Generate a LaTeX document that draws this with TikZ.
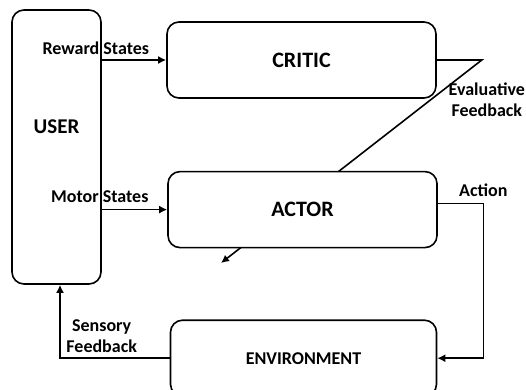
\documentclass[tikz,border=0pt]{standalone}
\usepackage{fontspec}
\setmainfont{Carlito}
\usetikzlibrary{arrows.meta,positioning,backgrounds}

\begin{document}
\begin{tikzpicture}[
  x=1pt, y=-1pt,
  node distance=72pt,
  block/.style={draw, rounded corners=12pt, line width=1.6pt, fill=white, minimum width=269pt, minimum height=76pt, font=\fontsize{22}{26}\selectfont\bfseries},
  lbl/.style={font=\fontsize{18}{21}\selectfont\bfseries, align=center, inner sep=1pt},
  arrow/.style={-{Latex[length=8pt,width=8pt]}, line width=1.6pt}
]
\useasboundingbox (0,0) rectangle (526,389);
\node[block, minimum width=89pt, minimum height=274pt,
  label={[font=\fontsize{21}{25}\selectfont\bfseries, yshift=20pt]center:USER}] (user) at (56.5,147) {};
\node[block] (critic) at (301.5,60) {CRITIC};
\node[block, below=of critic, xshift=1pt] (actor) {ACTOR};
\node[block, below=71pt of actor, xshift=1pt, minimum width=266pt, font=\fontsize{18}{21}\selectfont\bfseries] (env) {ENVIRONMENT};
\coordinate (evalend) at (221,263);
\draw[arrow] (critic.west -| user.east) -- (critic.west)
  node[lbl, above=4pt, pos=0, xshift=-6pt] {Reward States};
\draw[arrow] (actor.west -| user.east) -- (actor.west)
  node[lbl, above=5pt, pos=0, xshift=-2pt] {Motor States};
% feedback from the critic runs behind the actor box
\begin{pgfonlayer}{background}
\draw[arrow] (critic.east) -- ++(45,0) coordinate (evalturn)
  node[lbl, below=21pt, xshift=5pt] {Evaluative\\Feedback} -- (evalend);
\end{pgfonlayer}
\draw[arrow] ([yshift=6pt]actor.east) -| ([xshift=46pt]env.east)
  node[lbl, above=5pt, pos=0.5] {Action} -- (env.east);
\draw[arrow] (env.west) -| ([xshift=3.5pt]user.south)
  node[lbl, above=4pt, pos=0.31] {Sensory\\Feedback};
\end{tikzpicture}
\end{document}
